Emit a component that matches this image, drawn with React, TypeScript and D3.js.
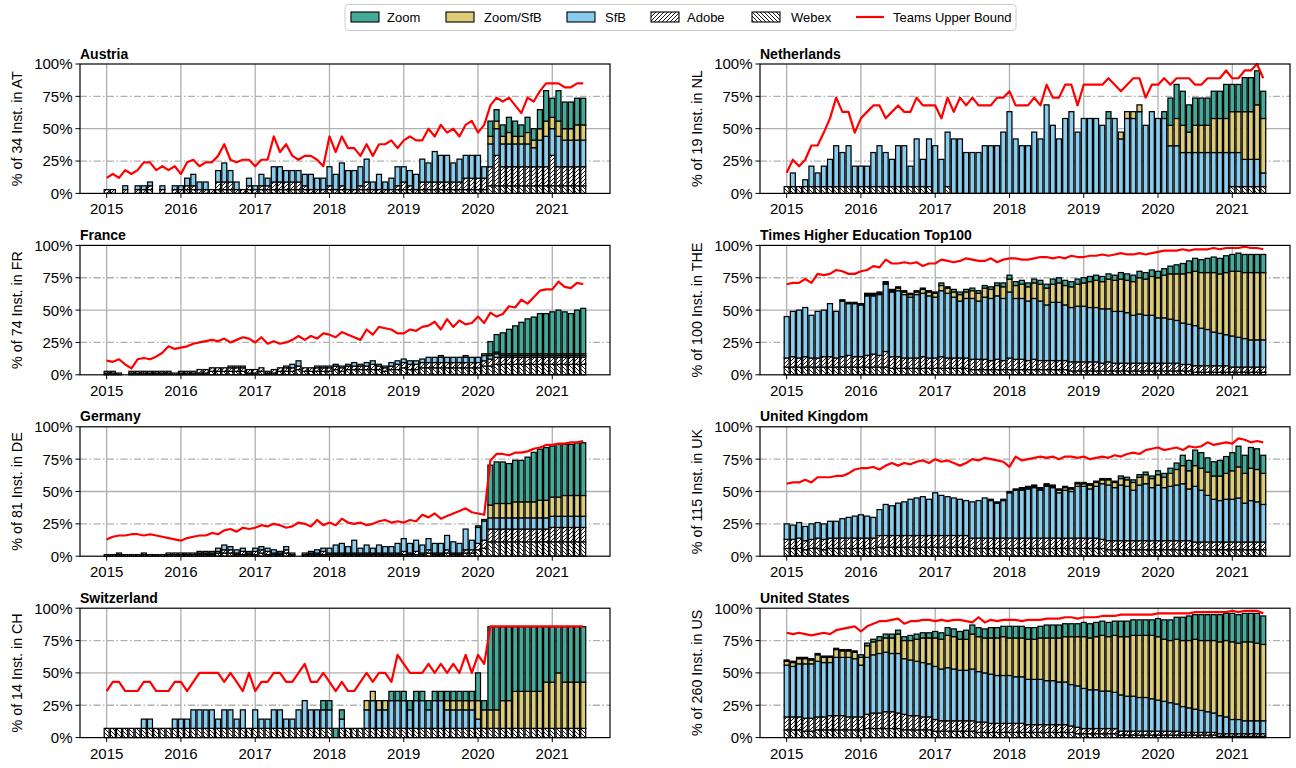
import React from 'react';
import * as d3 from 'd3';

// ---------------- data (monthly, 2015-01 .. 2021-06) ----------------
const YEARS = [2015, 2016, 2017, 2018, 2019, 2020, 2021];
const Y_TICKS = [0, 25, 50, 75, 100];
const MONTHS = d3.range(78);

// Austria (counts of 34)
const AT_webex = [
0,0,0,0,0,0,0,1,0,0,0,0,
0,1,1,0,0,0,1,1,1,0,0,1,
0,1,1,1,1,1,1,1,1,0,0,0,
1,0,1,0,0,1,1,0,0,0,0,1,
1,1,0,1,1,1,1,1,1,1,1,1,
1,1,2,2,2,2,2,2,2,2,2,2,
2,2,2,2,2,2];
const AT_adobe = [
1,1,0,1,0,1,1,1,0,1,0,1,
1,1,1,1,1,1,2,2,2,1,1,1,
1,1,1,2,2,2,2,2,1,1,1,1,
1,1,1,1,1,1,2,1,1,1,1,1,
2,1,1,2,2,2,2,2,2,2,3,3,
3,3,5,8,5,5,5,5,5,5,5,5,
8,5,5,5,5,5];
const AT_sfb = [
0,0,0,1,0,1,1,1,0,1,0,1,
1,2,3,2,2,0,3,5,3,2,0,2,
1,3,2,4,4,3,3,3,3,4,3,3,
5,4,6,5,5,5,6,2,4,2,3,5,
4,4,4,6,5,8,7,7,5,6,6,6,
6,3,6,7,6,6,6,6,6,5,7,8,
7,8,7,7,7,7];
const AT_zoomsfb = [
0,0,0,0,0,0,0,0,0,0,0,0,
0,0,0,0,0,0,0,0,0,0,0,0,
0,0,0,0,0,0,0,0,0,0,0,0,
0,0,0,0,0,0,0,0,0,0,0,0,
0,0,0,0,0,0,0,0,0,0,0,0,
0,0,2,2,2,3,2,2,3,2,3,4,
3,4,3,3,4,4];
const AT_zoom = [
0,0,0,0,0,0,0,0,0,0,0,0,
0,0,0,0,0,0,0,0,0,0,0,0,
0,0,0,0,0,0,0,0,0,0,0,0,
0,0,0,0,0,0,0,0,0,0,0,0,
0,0,0,0,0,0,0,0,0,0,0,0,
0,0,4,3,3,4,4,3,4,3,5,8,
5,8,7,7,7,7];
const AT_teams = [
12,15,12,18,15,18,24,24,18,21,18,21,
15,24,26,21,24,24,29,38,26,24,26,26,
21,26,26,44,32,38,29,26,29,29,26,21,
44,32,44,35,35,29,38,29,38,38,41,35,
41,44,41,41,50,44,53,47,50,44,53,56,
47,53,68,74,71,74,68,62,74,71,79,85,
85,85,82,82,85,85];

// Netherlands (counts of 19)
const NL_webex = [
1,1,1,1,1,1,1,1,1,1,1,1,
1,1,1,1,1,1,1,1,1,1,1,1,
0,0,1,0,0,0,0,0,0,0,0,0,
0,0,0,0,0,0,0,0,0,0,0,0,
0,0,0,0,0,0,0,0,0,0,0,0,
0,0,0,0,0,0,0,0,0,0,0,0,
1,1,1,1,1,1];
const NL_adobe = [
0,0,0,0,0,0,0,0,0,0,0,0,
0,0,0,0,0,0,0,0,0,0,0,0,
0,0,0,0,0,0,0,0,0,0,0,0,
0,0,0,0,0,0,0,0,0,0,0,0,
0,0,0,0,0,0,0,0,0,0,0,0,
0,0,0,0,0,0,0,0,0,0,0,0,
0,0,0,0,0,0];
const NL_sfb = [
0,2,0,1,3,2,3,4,6,5,6,3,
3,3,5,6,5,4,6,6,3,7,4,7,
7,5,8,8,8,6,6,6,7,7,7,9,
12,8,7,7,9,8,13,10,8,11,12,9,
11,11,11,10,11,11,8,11,11,12,10,12,
11,11,7,7,6,6,6,6,6,6,6,6,
5,5,4,4,4,2];
const NL_zoomsfb = [
0,0,0,0,0,0,0,0,0,0,0,0,
0,0,0,0,0,0,0,0,0,0,0,0,
0,0,0,0,0,0,0,0,0,0,0,0,
0,0,0,0,0,0,0,0,0,0,0,0,
0,0,0,0,0,0,1,1,1,1,0,0,
0,0,3,4,4,3,4,4,4,5,5,5,
6,6,7,7,8,8];
const NL_zoom = [
0,0,0,0,0,0,0,0,0,0,0,0,
0,0,0,0,0,0,0,0,0,0,0,0,
0,0,0,0,0,0,0,0,0,0,0,0,
0,0,0,0,0,0,0,0,0,0,0,0,
0,0,0,0,1,0,0,0,0,0,0,0,
0,1,4,5,5,4,4,4,4,4,4,5,
4,4,5,5,5,4];
const NL_teams = [
16,26,21,26,37,37,47,58,74,63,63,47,
58,63,68,68,58,63,68,63,63,74,68,68,
68,58,74,63,74,68,74,68,68,68,74,74,
79,68,68,68,74,68,84,74,74,84,84,68,
84,84,84,84,89,84,79,84,89,89,74,84,
84,89,84,89,89,89,84,84,89,89,89,95,
89,89,95,95,100,89];

// France (counts of 74)
const FR_webex = [
1,1,0,0,1,1,1,1,1,1,1,0,
1,1,1,1,1,2,2,2,2,2,2,1,
1,2,1,1,2,2,2,3,2,2,2,2,
2,3,2,3,3,3,3,3,3,2,3,3,
4,3,3,4,4,4,4,4,4,4,4,4,
4,5,5,6,6,6,6,6,6,6,6,6,
6,6,6,6,6,6];
const FR_adobe = [
1,1,1,0,1,1,1,1,1,1,1,1,
1,1,1,2,2,2,2,2,2,2,2,2,
2,2,1,2,2,2,2,2,2,2,2,2,
2,2,2,2,2,2,2,3,2,2,2,3,
3,3,3,3,3,3,3,3,3,3,3,3,
3,3,4,4,4,4,4,4,4,4,4,4,
4,4,4,4,4,4];
const FR_sfb = [
0,0,0,0,0,0,0,0,0,0,0,0,
0,0,0,0,0,0,0,0,1,1,1,0,
0,0,0,0,0,1,2,3,0,0,1,1,
1,1,1,1,2,1,2,2,1,1,2,2,
2,2,2,2,3,3,3,3,3,3,3,3,
3,3,2,2,1,1,1,1,1,1,1,1,
1,1,1,1,1,1];
const FR_zoomsfb = [
0,0,0,0,0,0,0,0,0,0,0,0,
0,0,0,0,0,0,0,0,0,0,0,0,
0,0,0,0,0,0,0,0,0,0,0,0,
0,0,0,0,0,0,0,0,0,0,0,0,
0,0,0,0,0,0,0,0,0,0,0,0,
0,0,1,1,1,1,1,1,1,1,1,1,
1,1,1,1,1,1];
const FR_zoom = [
0,0,0,0,0,0,0,0,0,0,0,0,
0,0,0,0,0,0,0,0,0,0,0,0,
0,0,0,0,0,0,0,0,0,0,0,0,
0,0,0,0,0,0,0,0,0,0,0,0,
0,0,0,0,0,0,1,0,0,0,1,0,
0,1,7,10,12,14,16,18,20,21,23,23,
24,25,24,23,25,26];
const FR_teams = [
11,10,12,8,5,12,13,12,14,17,22,20,
21,22,24,25,26,27,26,28,25,27,29,28,
25,29,24,26,24,25,27,30,27,30,28,32,
31,29,33,31,29,27,35,31,37,36,35,32,
32,35,34,37,38,41,35,43,37,42,39,40,
45,40,48,45,47,53,52,58,55,60,65,66,
66,72,68,67,71,70];

// Germany (counts of 81)
const DE_webex = [
1,0,1,0,1,0,1,0,1,0,1,1,
1,1,1,1,1,1,2,2,2,1,1,1,
1,2,1,1,1,2,1,0,1,1,1,1,
1,1,1,1,1,1,1,1,1,1,1,1,
1,1,1,1,2,1,1,2,1,1,2,2,
4,5,9,9,9,9,9,9,9,9,9,9,
9,9,9,9,9,9];
const DE_adobe = [
0,1,1,1,0,1,1,1,0,1,1,1,
1,1,1,1,1,1,1,2,2,1,2,1,
2,2,2,1,1,2,1,0,1,1,1,2,
1,1,1,1,1,1,1,1,1,1,1,1,
2,1,2,1,2,1,1,2,1,1,2,2,
4,5,8,8,8,8,8,8,8,8,8,8,
9,9,9,9,9,9];
const DE_sfb = [
0,0,0,0,0,0,0,0,0,0,0,0,
0,0,0,1,1,1,2,3,2,2,2,1,
2,2,2,2,1,2,0,0,0,1,2,2,
3,5,6,4,8,3,5,3,5,4,4,6,
8,6,7,5,7,6,6,9,7,6,13,6,
10,12,7,7,7,7,7,7,7,7,7,7,
7,7,7,7,7,7];
const DE_zoomsfb = [
0,0,0,0,0,0,0,0,0,0,0,0,
0,0,0,0,0,0,0,0,0,0,0,0,
0,0,0,0,0,0,0,0,0,0,0,0,
0,0,0,0,0,0,0,0,0,0,0,0,
0,0,0,0,0,0,0,0,0,0,0,0,
0,0,8,9,9,9,10,10,10,10,11,11,
12,12,13,13,13,13];
const DE_zoom = [
0,0,0,0,0,0,0,0,0,0,0,0,
0,0,0,0,0,0,0,0,0,0,0,0,
0,0,0,0,0,0,0,0,0,0,0,0,
0,0,0,0,0,0,0,0,0,0,0,0,
0,0,0,0,0,0,0,0,0,0,0,0,
1,1,25,26,26,25,26,26,28,31,32,33,
32,33,32,32,33,33];
const DE_teams = [
13,15,16,16,17,17,16,17,16,15,14,13,
12,14,15,16,16,18,17,20,21,19,22,21,
22,24,23,25,24,22,23,26,25,23,28,24,
26,24,29,26,25,26,24,25,27,28,26,27,
26,28,27,32,30,33,29,31,33,35,37,34,
33,32,74,79,79,78,80,80,81,83,84,86,
86,87,87,88,88,89];

// Switzerland (counts of 14)
const CH_webex = [
1,1,1,1,1,1,1,1,1,1,1,1,
1,1,1,1,1,1,1,1,1,1,1,1,
1,1,1,1,1,1,1,1,1,1,1,1,
1,0,1,1,1,1,1,1,1,1,1,1,
1,1,1,1,1,1,1,1,1,1,1,1,
1,1,1,1,1,1,1,1,1,1,1,1,
1,1,1,1,1,1];
const CH_adobe = [
0,0,0,0,0,0,0,0,0,0,0,0,
0,0,0,0,0,0,0,0,0,0,0,0,
0,0,0,0,0,0,0,0,0,0,0,0,
0,0,0,0,0,0,0,0,0,0,0,0,
0,0,0,0,0,0,0,0,0,0,0,0,
0,0,0,0,0,0,0,0,0,0,0,0,
0,0,0,0,0,0];
const CH_sfb = [
0,0,0,0,0,0,1,1,0,0,0,1,
1,1,2,2,2,2,1,2,2,1,2,0,
2,1,1,2,2,1,1,2,3,2,2,2,
2,0,1,0,0,0,2,3,2,2,3,3,
3,2,3,3,2,3,3,2,2,2,2,2,
1,0,0,0,0,0,0,0,0,0,0,0,
0,0,0,0,0,0];
const CH_zoomsfb = [
0,0,0,0,0,0,0,0,0,0,0,0,
0,0,0,0,0,0,0,0,0,0,0,0,
0,0,0,0,0,0,0,0,0,0,0,0,
0,0,0,0,0,0,1,1,1,1,0,0,
0,0,0,0,0,0,0,1,1,1,1,1,
2,2,2,2,3,3,4,4,4,4,4,5,
5,6,5,5,5,5];
const CH_zoom = [
0,0,0,0,0,0,0,0,0,0,0,0,
0,0,0,0,0,0,0,0,0,0,0,0,
0,0,0,0,0,0,0,0,0,0,0,1,
1,1,1,0,0,0,0,0,0,0,1,1,
1,1,1,1,1,1,1,1,1,1,1,1,
3,1,9,9,8,8,7,7,7,7,7,6,
6,5,6,6,6,6];
const CH_teams = [
36,43,43,36,36,36,43,43,36,36,36,43,
43,36,43,50,50,50,50,43,50,43,36,50,
36,43,43,50,50,43,43,50,57,43,43,50,
43,36,43,36,36,43,50,43,50,50,43,64,
57,50,50,50,57,50,57,50,57,50,64,50,
64,57,86,86,86,86,86,86,86,86,86,86,
86,86,86,86,86,86];

// Times Higher Education Top100 (counts of 100)
const THE_webex = [
6,6,6,6,6,6,6,6,6,6,6,6,
6,6,6,6,6,5,5,5,5,5,5,5,
5,5,5,5,5,5,4,4,4,4,4,4,
4,4,4,4,4,4,4,4,4,4,3,3,
3,3,3,3,3,3,3,3,3,3,3,3,
3,3,3,3,3,3,2,2,2,2,2,2,
2,2,2,2,2,2];
const THE_adobe = [
7,8,7,8,7,7,8,8,7,8,9,8,
8,9,10,9,12,9,9,8,8,8,9,8,
8,9,8,8,8,8,8,8,8,7,8,7,
9,8,8,7,8,7,7,7,7,7,7,7,
7,7,7,6,7,6,6,6,6,6,6,6,
6,6,6,6,5,5,5,5,5,5,5,5,
4,4,4,4,4,4];
const THE_sfb = [
32,35,37,38,33,36,36,41,36,43,40,41,
40,46,45,47,52,50,51,49,47,49,49,48,
47,51,50,47,44,46,47,45,48,48,49,48,
51,47,47,46,47,46,43,45,45,43,42,43,
43,42,42,42,41,40,40,39,37,38,37,37,
35,35,34,33,32,31,31,29,28,26,25,24,
24,23,22,21,21,21];
const THE_zoomsfb = [
0,0,0,0,0,0,0,0,0,0,0,0,
0,1,1,1,1,1,2,2,2,2,3,3,
3,4,4,4,5,5,6,6,7,7,8,9,
10,10,11,11,12,13,13,14,15,15,16,17,
18,20,21,21,23,24,25,25,26,28,28,30,
31,33,35,36,38,40,42,43,44,46,46,48,
50,51,51,52,52,52];
const THE_zoom = [
0,0,0,0,0,0,0,0,0,1,1,1,
1,1,1,1,1,1,1,1,1,1,1,1,
1,2,1,2,2,2,2,2,2,2,2,3,
3,3,3,3,3,3,3,4,4,4,4,4,
4,4,4,4,4,4,5,5,5,5,5,5,
5,5,6,7,8,9,10,10,11,12,12,13,
13,14,14,14,14,14];
const THE_teams = [
70,71,71,74,71,78,77,78,81,80,78,78,
80,81,84,83,89,86,86,87,86,87,84,86,
86,89,88,87,88,90,89,88,88,90,87,89,
90,90,89,89,90,91,91,90,91,90,92,91,
91,92,92,93,92,93,94,93,93,94,93,94,
95,96,96,96,97,96,97,97,97,98,97,98,
98,98,99,98,98,97];

// United Kingdom (percent of 115)
const UK_webex = [
6,6,6,5,6,6,5,6,6,6,6,6,
6,6,6,7,7,7,7,7,7,7,7,7,
7,7,7,7,7,7,6,6,6,6,6,6,
6,6,6,6,6,6,6,6,6,6,6,6,
6,6,6,6,5,5,5,5,5,5,5,5,
5,5,5,5,5,5,5,5,5,5,5,5,
5,5,5,5,5,5];
const UK_adobe = [
7,7,8,7,7,8,8,8,8,8,8,8,
8,8,8,9,9,9,9,9,9,9,9,9,
9,9,9,9,9,9,8,8,8,8,8,8,
8,8,8,8,8,8,8,8,8,8,8,8,
8,8,8,7,7,7,7,7,7,7,7,7,
7,7,7,7,7,7,6,6,6,6,6,6,
6,6,6,6,6,6];
const UK_sfb = [
12,11,12,11,12,12,12,13,13,15,16,17,
18,17,16,20,24,23,25,26,28,29,30,28,
33,31,30,29,28,27,28,29,31,29,27,29,
35,37,37,38,39,37,40,39,35,37,36,40,
40,38,40,43,43,41,43,42,39,43,44,41,
43,41,42,43,44,40,43,40,36,33,32,33,
33,34,30,32,31,29];
const UK_zoomsfb = [
0,0,0,0,0,0,0,0,0,0,0,0,
0,0,0,0,0,0,0,0,0,0,0,0,
0,0,0,0,0,0,0,0,0,0,0,0,
0,0,1,1,1,1,1,1,2,2,2,2,
2,3,3,3,4,4,5,5,6,6,7,7,
8,8,10,12,14,14,16,17,18,18,19,20,
22,24,23,25,25,24];
const UK_zoom = [
0,0,0,0,0,0,0,0,0,0,0,0,
0,0,0,0,0,0,0,0,0,0,0,0,
0,0,0,0,0,0,0,0,0,1,1,1,
1,1,1,1,1,1,1,1,1,1,1,1,
1,1,1,1,1,1,2,2,2,2,2,2,
3,3,4,5,8,8,12,12,11,11,12,13,
14,16,14,16,16,14];
const UK_teams = [
56,57,57,59,57,61,61,61,62,62,64,67,
68,68,69,67,70,72,70,72,71,73,74,72,
75,73,74,72,70,72,75,74,76,75,74,73,
69,77,74,75,76,77,76,77,75,77,77,76,
77,75,76,77,76,78,77,79,80,79,82,83,
84,82,83,84,82,85,84,85,88,86,87,88,
87,91,90,88,89,88];

// United States (percent of 260)
const US_webex = [
6,6,6,5,5,6,6,6,6,6,6,6,
6,7,7,7,7,7,7,6,6,6,6,6,
5,5,5,5,5,5,5,4,4,4,4,4,
4,4,4,4,4,4,4,4,4,4,4,3,
3,3,3,3,3,3,2,2,2,2,2,2,
2,2,2,2,2,2,2,2,2,2,1,1,
1,1,1,1,1,1];
const US_adobe = [
10,10,10,10,10,10,10,11,11,11,10,10,
10,11,12,12,13,13,12,12,11,11,10,10,
9,8,8,8,8,8,8,8,8,7,7,7,
7,7,7,6,6,6,6,6,6,6,5,5,
4,4,4,4,4,4,3,3,3,3,3,3,
3,3,3,3,2,2,2,2,2,2,2,2,
2,2,2,2,2,2];
const US_sfb = [
40,39,41,42,42,43,42,41,45,45,46,45,
40,44,45,46,46,45,46,43,43,42,42,41,
41,40,41,40,39,39,40,39,38,38,37,37,
37,36,36,35,35,35,34,34,33,33,32,32,
31,30,30,29,29,28,28,27,27,26,26,25,
24,23,22,21,20,19,18,17,16,15,14,13,
11,11,10,10,10,10];
const US_zoomsfb = [
3,3,4,4,3,5,4,4,6,5,5,5,
6,9,10,10,11,12,15,14,15,17,19,20,
22,23,25,25,24,24,27,27,27,28,29,30,
29,30,30,31,31,32,33,33,34,35,37,38,
40,40,41,43,42,44,45,46,47,48,48,49,
49,48,48,50,51,52,54,54,55,56,57,59,
60,59,61,61,60,59];
const US_zoom = [
1,1,1,1,1,1,1,1,1,1,1,1,
2,2,2,3,3,3,3,3,4,4,4,4,
5,5,6,6,6,7,7,7,7,8,8,8,
9,9,9,9,9,9,10,10,10,10,10,10,
11,11,11,11,11,11,12,12,12,12,12,12,
14,15,16,17,18,19,19,20,20,20,21,21,
22,22,22,22,23,22];
const US_teams = [
81,80,81,80,79,80,81,80,83,84,85,86,
82,86,88,90,90,91,92,88,90,90,91,91,
90,91,90,91,91,90,89,93,89,91,90,91,
91,91,90,91,91,91,92,92,92,93,93,92,
93,93,93,94,94,94,95,95,95,95,95,95,
96,96,96,96,96,96,97,97,97,97,97,97,
98,97,98,98,98,96];

const PANELS = [
  { title: 'Austria', ylabel: '% of 34 Inst. in AT', denom: 34, col: 0, row: 0,
    webex: AT_webex, adobe: AT_adobe, sfb: AT_sfb, zoomsfb: AT_zoomsfb, zoom: AT_zoom, teams: AT_teams },
  { title: 'France', ylabel: '% of 74 Inst. in FR', denom: 74, col: 0, row: 1,
    webex: FR_webex, adobe: FR_adobe, sfb: FR_sfb, zoomsfb: FR_zoomsfb, zoom: FR_zoom, teams: FR_teams },
  { title: 'Germany', ylabel: '% of 81 Inst. in DE', denom: 81, col: 0, row: 2,
    webex: DE_webex, adobe: DE_adobe, sfb: DE_sfb, zoomsfb: DE_zoomsfb, zoom: DE_zoom, teams: DE_teams },
  { title: 'Switzerland', ylabel: '% of 14 Inst. in CH', denom: 14, col: 0, row: 3,
    webex: CH_webex, adobe: CH_adobe, sfb: CH_sfb, zoomsfb: CH_zoomsfb, zoom: CH_zoom, teams: CH_teams },
  { title: 'Netherlands', ylabel: '% of 19 Inst. in NL', denom: 19, col: 1, row: 0,
    webex: NL_webex, adobe: NL_adobe, sfb: NL_sfb, zoomsfb: NL_zoomsfb, zoom: NL_zoom, teams: NL_teams },
  { title: 'Times Higher Education Top100', ylabel: '% of 100 Inst. in THE', denom: 100, col: 1, row: 1,
    webex: THE_webex, adobe: THE_adobe, sfb: THE_sfb, zoomsfb: THE_zoomsfb, zoom: THE_zoom, teams: THE_teams },
  { title: 'United Kingdom', ylabel: '% of 115 Inst. in UK', denom: 100, col: 1, row: 2,
    webex: UK_webex, adobe: UK_adobe, sfb: UK_sfb, zoomsfb: UK_zoomsfb, zoom: UK_zoom, teams: UK_teams },
  { title: 'United States', ylabel: '% of 260 Inst. in US', denom: 100, col: 1, row: 3,
    webex: US_webex, adobe: US_adobe, sfb: US_sfb, zoomsfb: US_zoomsfb, zoom: US_zoom, teams: US_teams },
];

const KEYS = ['webex', 'adobe', 'sfb', 'zoomsfb', 'zoom'];
const FILLS: Record<string, string> = {
  webex: 'url(#hatchWebex)',
  adobe: 'url(#hatchAdobe)',
  sfb: '#88CCEE',
  zoomsfb: '#DDCC77',
  zoom: '#44AA99',
};
const LEGEND = [
  { key: 'zoom', label: 'Zoom' },
  { key: 'zoomsfb', label: 'Zoom/SfB' },
  { key: 'sfb', label: 'SfB' },
  { key: 'adobe', label: 'Adobe' },
  { key: 'webex', label: 'Webex' },
];

// ---------------- layout ----------------
const W = 1296, H = 768;
const COLS = [{ x0: 80, x1: 610 }, { x0: 760, x1: 1290 }];
const ROW_TOP = 64, ROW_STEP = 181.4, PLOT_H = 129.4;
const X_DOMAIN = [2014.641, 2021.777];
const FONT = '"Liberation Sans", Arial, Helvetica, sans-serif';
const GRID = '#b0b0b0';

function Panel({ p }: { p: any }) {
  const { x0, x1 } = COLS[p.col];
  const top = ROW_TOP + p.row * ROW_STEP;
  const bottom = top + PLOT_H;
  const x = d3.scaleLinear().domain(X_DOMAIN).range([x0, x1]);
  const y = d3.scaleLinear().domain([0, 100]).range([bottom, top]);
  const rows = MONTHS.map((i) => {
    const r: any = { t: 2015 + i / 12 };
    KEYS.forEach((k) => { r[k] = (p[k][i] / p.denom) * 100; });
    return r;
  });
  const stacked = d3.stack<any>().keys(KEYS)(rows);
  const step = x(2015 + 1 / 12) - x(2015);
  const bw = step * 0.8;
  const line = d3.line<number>()
    .x((_, i) => x(2015 + i / 12))
    .y((d) => y(d));

  return (
    <g>
      {YEARS.map((yr) => (
        <line key={'gx' + yr} x1={x(yr)} x2={x(yr)} y1={top} y2={bottom} stroke={GRID} strokeWidth={1.3} />
      ))}
      {[25, 50, 75].map((v) => (
        <line key={'gy' + v} x1={x0} x2={x1} y1={y(v)} y2={y(v)} stroke={GRID}
          strokeWidth={1.3} strokeDasharray={v === 50 ? undefined : '7,2.5,1.5,2.5'} />
      ))}
      {stacked.map((layer) => (
        <g key={layer.key}>
          {layer.map((d, i) => {
            const h = y(d[0]) - y(d[1]);
            if (h <= 0.01) return null;
            return (
              <rect key={i} x={x(d.data.t) - bw / 2} y={y(d[1])} width={bw} height={h}
                fill={FILLS[layer.key]} stroke="#000" strokeWidth={1.25} />
            );
          })}
        </g>
      ))}
      <path d={line(p.teams) || ''} fill="none" stroke="#ff0000" strokeWidth={2.2} strokeLinejoin="round" />
      <rect x={x0} y={top} width={x1 - x0} height={PLOT_H} fill="none" stroke="#000" strokeWidth={1.2} />
      {Y_TICKS.map((v) => (
        <g key={'yt' + v}>
          <line x1={x0 - 4.5} x2={x0} y1={y(v)} y2={y(v)} stroke="#000" strokeWidth={1} />
          <text x={x0 - 7.5} y={y(v)} dy="0.36em" textAnchor="end" fontSize={15} fontFamily={FONT} fill="#000">
            {v + '%'}
          </text>
        </g>
      ))}
      {YEARS.map((yr) => (
        <g key={'xt' + yr}>
          <line x1={x(yr)} x2={x(yr)} y1={bottom} y2={bottom + 4.5} stroke="#000" strokeWidth={1} />
          <text x={x(yr)} y={bottom + 21} textAnchor="middle" fontSize={15} fontFamily={FONT} fill="#000">
            {yr}
          </text>
        </g>
      ))}
      <text x={x0} y={top - 5.5} fontSize={14} fontWeight="bold" fontFamily={FONT} fill="#000">{p.title}</text>
      <text transform={`translate(${x0 - 58.5},${(top + bottom) / 2}) rotate(-90)`} textAnchor="middle"
        fontSize={14.3} fontFamily={FONT} fill="#000">{p.ylabel}</text>
    </g>
  );
}

function Legend() {
  const sw = [351, 446, 567, 651, 752];
  const tx = [387, 484, 605, 687, 791];
  return (
    <g>
      <rect x={345} y={4.5} width={671} height={26} rx={3} fill="#fff" stroke="#cccccc" strokeWidth={1} />
      {LEGEND.map((l, i) => (
        <g key={l.key}>
          <rect x={sw[i]} y={12} width={28} height={10} fill={FILLS[l.key]} stroke="#000" strokeWidth={1.1} />
          <text x={tx[i]} y={22} fontSize={13} fontFamily={FONT} fill="#000">{l.label}</text>
        </g>
      ))}
      <line x1={856} x2={884} y1={17} y2={17} stroke="#ff0000" strokeWidth={2.2} />
      <text x={893} y={22} fontSize={13} fontFamily={FONT} fill="#000">Teams Upper Bound</text>
    </g>
  );
}

export default function App() {
  return (
    <svg width={W} height={H} viewBox={`0 0 ${W} ${H}`}
      style={{ position: 'absolute', left: 0, top: 0, background: '#fff', display: 'block' }}>
      <defs>
        <pattern id="hatchAdobe" patternUnits="userSpaceOnUse" width={4} height={4}>
          <rect width={4} height={4} fill="#fff" />
          <path d="M-1,1 l2,-2 M0,4 l4,-4 M3,5 l2,-2" stroke="#000" strokeWidth={0.9} />
        </pattern>
        <pattern id="hatchWebex" patternUnits="userSpaceOnUse" width={4} height={4}>
          <rect width={4} height={4} fill="#fff" />
          <path d="M-1,3 l2,2 M0,0 l4,4 M3,-1 l2,2" stroke="#000" strokeWidth={0.9} />
        </pattern>
      </defs>
      <rect width={W} height={H} fill="#fff" />
      <Legend />
      {PANELS.map((p) => <Panel key={p.title} p={p} />)}
    </svg>
  );
}
